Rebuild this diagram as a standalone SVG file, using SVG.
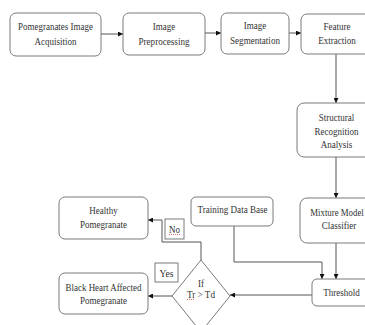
<svg xmlns="http://www.w3.org/2000/svg" width="365" height="325" viewBox="0 0 365 325">
<style>
  .box{fill:#fff;stroke:#7a7a7a;stroke-width:1}
  .lbl{fill:#fff;stroke:#7a7a7a;stroke-width:1}
  text{font-family:"Liberation Serif","Times New Roman",serif;font-size:11px;fill:#333;text-anchor:middle}
  .con{fill:none;stroke:#555;stroke-width:1}
  .sq{stroke:#d05050;stroke-width:0.8;stroke-dasharray:1 1}
</style>
<defs>
  <marker id="ah" viewBox="0 0 6 6" refX="6" refY="3" markerWidth="5" markerHeight="5" orient="auto" markerUnits="userSpaceOnUse">
    <path d="M0,0 L6,3 L0,6 Z" fill="#111"/>
  </marker>
</defs>
<rect width="365" height="325" fill="#fff"/>

<g id="connectors">
  <path class="con" d="M101,34 H123" marker-end="url(#ah)"/>
  <path class="con" d="M205,33 H221" marker-end="url(#ah)"/>
  <path class="con" d="M288,33 H301" marker-end="url(#ah)"/>
  <path class="con" d="M336,54 V103" marker-end="url(#ah)"/>
  <path class="con" d="M336,157 V198" marker-end="url(#ah)"/>
  <path class="con" d="M336,243 V279" marker-end="url(#ah)"/>
  <path class="con" d="M234,226 V262 H322 V279" marker-end="url(#ah)"/>
  <path class="con" d="M312,295 H230" marker-end="url(#ah)"/>
  <path class="con" d="M172,296 H148" marker-end="url(#ah)"/>
  <path class="con" d="M201,260 V242 H162 V220 H148" marker-end="url(#ah)"/>
</g>

<g id="n1">
  <rect class="box" x="10" y="13" width="91" height="43" rx="6"/>
  <text x="55.5" y="29.5" textLength="75" lengthAdjust="spacingAndGlyphs">Pomegranates Image</text>
  <text x="55.5" y="44.5" textLength="42" lengthAdjust="spacingAndGlyphs">Acquisition</text>
</g>
<g id="n2">
  <rect class="box" x="123" y="13" width="82" height="42" rx="6"/>
  <text x="164" y="29.5" textLength="22.5" lengthAdjust="spacingAndGlyphs">Image</text>
  <text x="164" y="44.5" textLength="51" lengthAdjust="spacingAndGlyphs">Preprocessing</text>
</g>
<g id="n3">
  <rect class="box" x="221" y="13" width="68" height="41" rx="6"/>
  <text x="255" y="28.5" textLength="22.5" lengthAdjust="spacingAndGlyphs">Image</text>
  <text x="255" y="43.5" textLength="50" lengthAdjust="spacingAndGlyphs">Segmentation</text>
</g>
<g id="n4">
  <path class="box" d="M365,14 H307 A6,6 0 0 0 301,20 V48 A6,6 0 0 0 307,54 H365"/>
  <text x="337" y="29.5" textLength="27" lengthAdjust="spacingAndGlyphs">Feature</text>
  <text x="337" y="43.5" textLength="37.5" lengthAdjust="spacingAndGlyphs">Extraction</text>
</g>
<g id="n5">
  <path class="box" d="M365,103 H304 A7,7 0 0 0 297,110 V150 A7,7 0 0 0 304,157 H365"/>
  <text x="336.5" y="120.5" textLength="35.5" lengthAdjust="spacingAndGlyphs">Structural</text>
  <text x="336.5" y="134.5" textLength="44" lengthAdjust="spacingAndGlyphs">Recognition</text>
  <text x="336.5" y="147.5" textLength="31.5" lengthAdjust="spacingAndGlyphs">Analysis</text>
</g>
<g id="n6">
  <path class="box" d="M365,198 H307 A7,7 0 0 0 300,205 V236 A7,7 0 0 0 307,243 H365"/>
  <text x="337" y="215.5" textLength="53.5" lengthAdjust="spacingAndGlyphs">Mixture Model</text>
  <text x="339" y="228.5" textLength="34.5" lengthAdjust="spacingAndGlyphs">Classifier</text>
</g>
<g id="n7">
  <path class="box" d="M365,279 H317 A5,5 0 0 0 312,284 V301 A5,5 0 0 0 317,306 H365"/>
  <text x="341.5" y="296" textLength="36.5" lengthAdjust="spacingAndGlyphs">Threshold</text>
</g>
<g id="n8">
  <rect class="box" x="191" y="197" width="82" height="29" rx="5"/>
  <text x="232.5" y="213" textLength="70" lengthAdjust="spacingAndGlyphs">Training Data Base</text>
</g>
<g id="n9">
  <rect class="box" x="59" y="197" width="89" height="42" rx="6"/>
  <text x="103.5" y="213.5" textLength="28.5" lengthAdjust="spacingAndGlyphs">Healthy</text>
  <text x="103.5" y="227.5" textLength="47" lengthAdjust="spacingAndGlyphs">Pomegranate</text>
</g>
<g id="n10">
  <rect class="box" x="59" y="273" width="89" height="41" rx="6"/>
  <text x="103.5" y="290.5" textLength="76" lengthAdjust="spacingAndGlyphs">Black Heart Affected</text>
  <text x="103.5" y="303.5" textLength="47" lengthAdjust="spacingAndGlyphs">Pomegranate</text>
</g>
<g id="n11">
  <path class="box" d="M201,260 L230,296 L201,332 L172,296 Z"/>
  <text x="201" y="286.5" textLength="6" lengthAdjust="spacingAndGlyphs">If</text>
  <text x="201" y="297.5" textLength="28" lengthAdjust="spacingAndGlyphs">Tr &gt; Td</text>
  <line class="sq" x1="187" y1="299.5" x2="194" y2="299.5"/>
</g>
<g id="l-yes">
  <rect class="lbl" x="155" y="263" width="23" height="19"/>
  <text x="166.5" y="276.5" textLength="14" lengthAdjust="spacingAndGlyphs">Yes</text>
</g>
<g id="l-no">
  <rect class="lbl" x="165" y="219" width="19" height="20"/>
  <text x="174.5" y="232.5" textLength="11" lengthAdjust="spacingAndGlyphs">No</text>
  <line class="sq" x1="169" y1="234.5" x2="180" y2="234.5"/>
</g>
</svg>
